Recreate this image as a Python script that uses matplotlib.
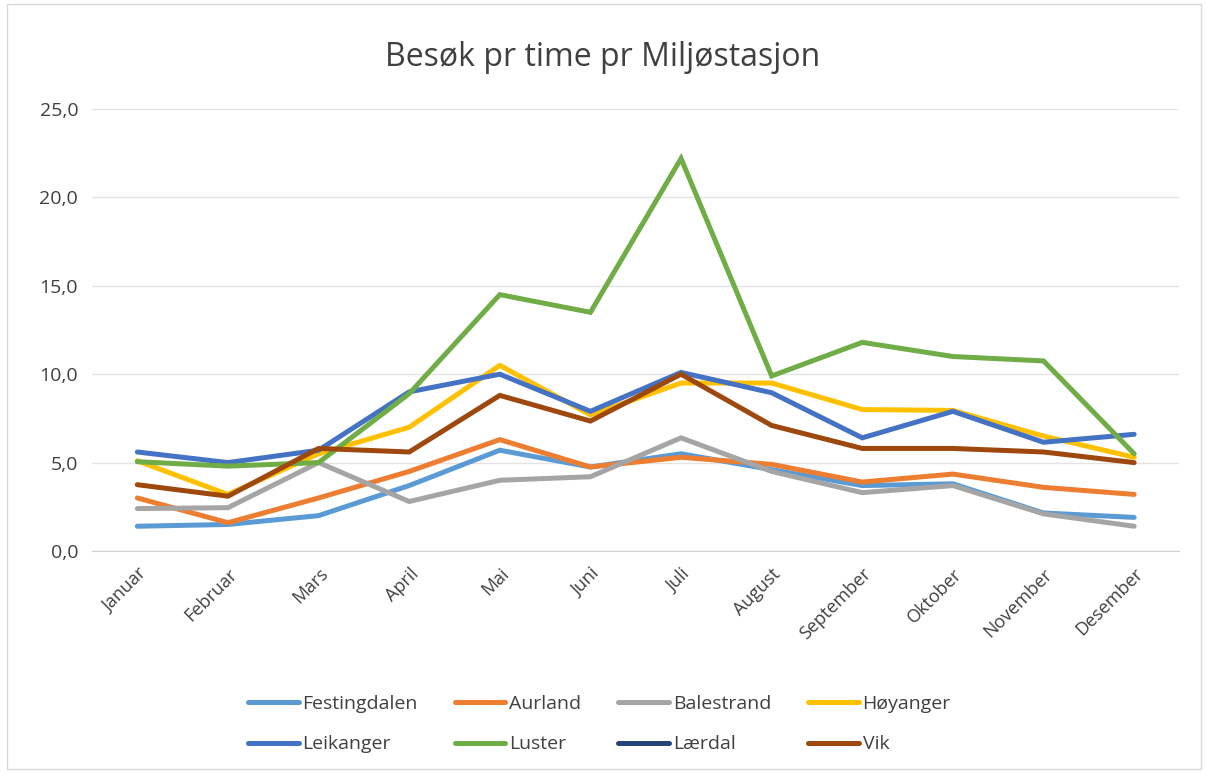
import matplotlib.pyplot as plt
import numpy as np

months = ["Januar", "Februar", "Mars", "April", "Mai", "Juni", "Juli",
          "August", "September", "Oktober", "November", "Desember"]

festingdalen = [1.4, 1.5, 2.0, 3.7, 5.7, 4.75, 5.5, 4.6, 3.7, 3.8, 2.15, 1.9]
aurland = [3.0, 1.6, 3.0, 4.5, 6.3, 4.75, 5.3, 4.9, 3.9, 4.35, 3.6, 3.2]
balestrand = [2.4, 2.45, 5.0, 2.8, 4.0, 4.2, 6.4, 4.5, 3.3, 3.7, 2.1, 1.4]
hoyanger = [5.1, 3.2, 5.5, 7.0, 10.5, 7.7, 9.5, 9.5, 8.0, 7.95, 6.5, 5.3]
leikanger = [5.6, 5.0, 5.7, 9.0, 10.0, 7.9, 10.1, 8.95, 6.4, 7.9, 6.15, 6.6]
luster = [5.05, 4.8, 5.0, 8.9, 14.5, 13.5, 22.2, 9.9, 11.8, 11.0, 10.75, 5.5]
laerdal = [np.nan] * 12  # i legenden, men ingen linje
vik = [3.75, 3.1, 5.8, 5.6, 8.8, 7.35, 10.0, 7.1, 5.8, 5.8, 5.6, 5.0]

yticks = [0, 5, 10, 15, 20, 25]
ytick_labels = ["0,0", "5,0", "10,0", "15,0", "20,0", "25,0"]

series = [
    ("Festingdalen", festingdalen, "#5B9BD5"),
    ("Aurland", aurland, "#ED7D31"),
    ("Balestrand", balestrand, "#A5A5A5"),
    ("Høyanger", hoyanger, "#FFC000"),
    ("Leikanger", leikanger, "#4472C4"),
    ("Luster", luster, "#70AD47"),
    ("Lærdal", laerdal, "#264478"),
    ("Vik", vik, "#9E480E"),
]

plt.rcParams['font.family'] = ['Open Sans', 'DejaVu Sans']

fig = plt.figure(figsize=(12.06, 7.73), dpi=100)
ax = fig.add_axes([0.0763, 0.2872, 0.9017, 0.5718])

x = np.arange(len(months))
lines = []
for name, vals, color in series:
    ln, = ax.plot(x, vals, color=color, linewidth=3.6, label=name,
                  solid_capstyle="round", solid_joinstyle="miter")
    lines.append(ln)

ax.set_xlim(-0.5, len(months) - 0.5)
ax.set_ylim(0, 25)
ax.set_yticks(yticks)
ax.set_yticklabels(ytick_labels, fontsize=14, color="#404040")
ax.set_xticks(x)
ax.set_xticklabels(months, rotation=45, ha="right", rotation_mode="anchor",
                   fontsize=13, color="#404040")
ax.tick_params(length=0, pad=10)
ax.grid(axis="y", color="#e4e4e4", linewidth=1)
ax.set_axisbelow(True)
for side in ["top", "right", "left"]:
    ax.spines[side].set_visible(False)
ax.spines["bottom"].set_color("#d0d0d0")

fig.suptitle("Besøk pr time pr Miljøstasjon", fontsize=23, color="#404040",
             y=0.947)

# legenden fylles kolonnevis, så stokk om for radvis rekkefølge
order = [0, 4, 1, 5, 2, 6, 3, 7]
fig.legend([lines[i] for i in order], [series[i][0] for i in order],
           loc="center", bbox_to_anchor=(0.497, 0.063), ncol=4, frameon=False,
           fontsize=14, handlelength=2.6, columnspacing=1.9, labelcolor="#404040",
           handletextpad=0.2, labelspacing=1.15)

fig.patches.append(plt.Rectangle((0.006, 0.005), 0.99, 0.99, fill=False,
                                 edgecolor="#d8d8d8", linewidth=1,
                                 transform=fig.transFigure))

fig.savefig("out.png", dpi=100)
